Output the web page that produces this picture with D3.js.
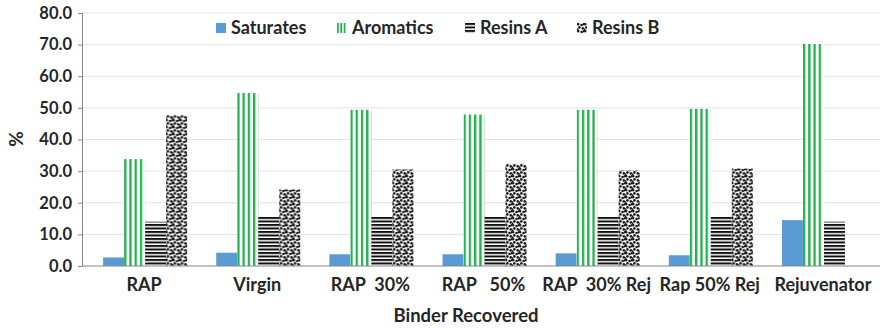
<!DOCTYPE html>
<html>
<head>
<meta charset="utf-8">
<script src="https://cdn.jsdelivr.net/npm/d3@7"></script>
<style>
  body { margin: 0; background: #fff; }
  text { font-family: Lato, "Open Sans", sans-serif; font-weight: bold; fill: #262626; }
</style>
</head>
<body>
<svg id="chart" width="880" height="330"></svg>
<script>
var categories = ["RAP", "Virgin", "RAP  30%", "RAP   50%", "RAP  30% Rej", "Rap 50% Rej", "Rejuvenator"]
var series = ["Saturates", "Aromatics", "Resins A", "Resins B"]
var saturates = [2.7, 4.2, 3.7, 3.7, 4.0, 3.4, 14.5]
var aromatics = [33.8, 54.7, 49.4, 47.9, 49.4, 49.7, 70.2]
var resinsA   = [14.0, 15.7, 15.6, 15.6, 15.6, 15.6, 14.0]
var resinsB   = [47.7, 24.2, 30.5, 32.3, 30.2, 30.8, 0]
var yTicks = [0, 10, 20, 30, 40, 50, 60, 70, 80]

var values = [saturates, aromatics, resinsA, resinsB]
var fills = ["#5b9bd5", "url(#pat-arom)", "url(#pat-resa)", "url(#pat-resb)"]
var legFills = ["#5b9bd5", "url(#pat-arom-leg)", "url(#pat-resa)", "url(#pat-resb)"]

var svg = d3.select("#chart")
var defs = svg.append("defs")

// vertical green stripes, 4 per bar
var pa = defs.append("pattern").attr("id", "pat-arom")
    .attr("patternUnits", "objectBoundingBox").attr("width", 0.25).attr("height", 1)
pa.append("rect").attr("width", 400).attr("height", 400).attr("fill", "#fff")
pa.append("rect").attr("width", 2.3).attr("height", 400).attr("fill", "#22b14c")

// same stripes, 3 per legend swatch
var pal = defs.append("pattern").attr("id", "pat-arom-leg")
    .attr("patternUnits", "objectBoundingBox").attr("width", 1 / 3).attr("height", 1)
pal.append("rect").attr("width", 40).attr("height", 40).attr("fill", "#fff")
pal.append("rect").attr("width", 1.8).attr("height", 40).attr("fill", "#22b14c")

// horizontal black stripes
var pr = defs.append("pattern").attr("id", "pat-resa")
    .attr("patternUnits", "userSpaceOnUse").attr("width", 10).attr("height", 3.5)
pr.append("rect").attr("width", 10).attr("height", 3.5).attr("fill", "#fff")
pr.append("rect").attr("width", 10).attr("height", 2).attr("fill", "#111")

// confetti dots
var pb = defs.append("pattern").attr("id", "pat-resb")
    .attr("patternUnits", "userSpaceOnUse").attr("width", 7).attr("height", 7)
pb.append("rect").attr("width", 7).attr("height", 7).attr("fill", "#fff")
var dots = [[1.2, 1.2], [4.6, 2.0], [2.4, 4.4], [5.8, 5.4], [0.2, 6.6], [7, 1.2], [1.2, 8.2]]
pb.selectAll("circle").data(dots).enter().append("circle")
  .attr("cx", d => d[0]).attr("cy", d => d[1]).attr("r", 1.3).attr("fill", "#151515")

var x = d3.scaleBand().domain(categories).range([88.5, 880.5]).padding(0)
var xs = d3.scaleBand().domain(series).range([14.6, 98.6])
var y = d3.scaleLinear().domain([0, 80]).range([266, 13])

// gridlines
svg.append("g").selectAll("line").data(yTicks.slice(1)).enter().append("line")
  .attr("x1", 82).attr("x2", 880)
  .attr("y1", d => y(d)).attr("y2", d => y(d))
  .attr("stroke", "#e3e3e3").attr("stroke-width", 1)

// y axis
var yAxis = svg.append("g").attr("transform", "translate(82,0)")
  .call(d3.axisLeft(y).tickValues(yTicks).tickFormat(d3.format(".1f")).tickSizeOuter(0).tickSize(4).tickPadding(6))
yAxis.select(".domain").attr("stroke", "#868686")
yAxis.selectAll(".tick line").attr("stroke", "#868686")
yAxis.selectAll("text").style("font-size", "16.5px").attr("fill", "#262626")

// bars
var groups = svg.append("g").selectAll("g").data(categories).enter().append("g")
  .attr("transform", d => "translate(" + x(d) + ",0)")
groups.selectAll("rect")
  .data((c, i) => series.map((s, j) => ({ s: s, v: values[j][i], f: fills[j] })))
  .enter().append("rect")
  .attr("x", d => xs(d.s))
  .attr("width", xs.bandwidth())
  .attr("y", d => y(d.v))
  .attr("height", d => y(0) - y(d.v))
  .attr("fill", d => d.f)

// x axis line
svg.append("line").attr("x1", 82).attr("x2", 880).attr("y1", y(0)).attr("y2", y(0))
  .attr("stroke", "#868686").attr("stroke-width", 1.2)

svg.append("g").selectAll("text").data(categories).enter().append("text")
  .attr("x", d => x(d) + x.bandwidth() / 2 - 1)
  .attr("y", 291)
  .attr("text-anchor", "middle")
  .style("font-size", "18px")
  .style("white-space", "pre")
  .text(d => d)

// axis titles
svg.append("text").attr("x", 466).attr("y", 322).attr("text-anchor", "middle")
  .style("font-size", "18.5px").text("Binder Recovered")
svg.append("text").attr("transform", "translate(23,139) rotate(-90)").attr("text-anchor", "middle")
  .style("font-size", "19px").text("%")

// legend
var legX = [216, 337, 465, 577]
var leg = svg.append("g").selectAll("g").data(series).enter().append("g")
  .attr("transform", (d, i) => "translate(" + legX[i] + ",23)")
leg.append("rect").attr("width", 10).attr("height", 10).attr("fill", (d, i) => legFills[i])
leg.append("text").attr("x", 15).attr("y", 11)
  .style("font-size", "18px").text(d => d)
</script>
</body>
</html>
